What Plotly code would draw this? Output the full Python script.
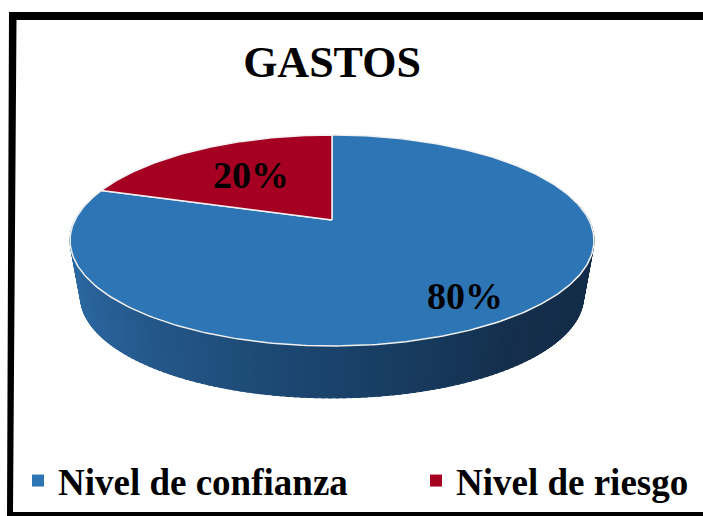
import math
import plotly.graph_objects as go

TITLE = "GASTOS"
CATEGORIES = ["Nivel de confianza", "Nivel de riesgo"]
SHARES = [80, 20]
COLORS = ["#2E75B6", "#A50021"]
FONT = "Liberation Serif"

# perspective model of the tilted disc (page pixels)
CX, CY, A, B, K = 332.0, 220.0, 257.0, 101.5, 0.194
WALL_DY, WALL_S = 57.0, 0.96


def project(theta, scale=1.0, dy=0.0):
    u, v = math.sin(theta), math.cos(theta)
    w = 1 + K * v
    return CX + scale * A * u / w, CY + dy - scale * B * v / w


def wall_color(x):
    stops = [(70, (44, 104, 162)), (150, (36, 88, 138)), (280, (28, 72, 115)),
             (420, (23, 58, 94)), (520, (20, 46, 75)), (600, (19, 44, 72))]
    for (x0, c0), (x1, c1) in zip(stops, stops[1:]):
        if x <= x1:
            t = max(0, (x - x0) / (x1 - x0))
            return "rgb(%d,%d,%d)" % tuple(round(a + (b - a) * t) for a, b in zip(c0, c1))
    return "rgb(19,44,72)"


fig = go.Figure()

# side wall, thin strips along the near half of the rim
N = 150
start, end = math.radians(80), math.radians(280)
for i in range(N):
    t0 = start + (end - start) * i / N
    t1 = start + (end - start) * (i + 1.5) / N
    xa, ya = project(t0)
    xb, yb = project(t1)
    xc, yc = project(t1, WALL_S, WALL_DY)
    xd, yd = project(t0, WALL_S, WALL_DY)
    col = wall_color((xa + xd) / 2)
    fig.add_trace(go.Scatter(x=[xa, xb, xc, xd, xa], y=[ya, yb, yc, yd, ya], mode="lines",
                             fill="toself", fillcolor=col,
                             line=dict(width=1, color=col), showlegend=False, hoverinfo="skip"))

# top face: slices go clockwise from 12 o'clock
total = sum(SHARES)
acc = 0.0
for share, color in zip(SHARES, COLORS):
    t0 = 2 * math.pi * acc / total
    t1 = 2 * math.pi * (acc + share) / total
    n = max(8, int(share * 4))
    pts = [project(t0 + (t1 - t0) * j / n) for j in range(n + 1)]
    xs = [CX] + [p[0] for p in pts] + [CX]
    ys = [CY] + [p[1] for p in pts] + [CY]
    fig.add_trace(go.Scatter(x=xs, y=ys, mode="lines", fill="toself", fillcolor=color,
                             line=dict(color="#F2F2F2", width=1.5), showlegend=False, hoverinfo="skip"))
    acc += share

# legend entries, one legend box each so they can sit apart
for name, color, lg in zip(CATEGORIES, COLORS, ["legend", "legend2"]):
    fig.add_trace(go.Scatter(x=[None], y=[None], mode="markers", name=name, legend=lg,
                             marker=dict(symbol="square", size=12, color=color)))

label_font = dict(family=FONT, size=38, color="#000000", weight="bold")
fig.add_annotation(x=251, y=175, text=f"{SHARES[1]}%", showarrow=False, font=label_font)
fig.add_annotation(x=465, y=296, text=f"{SHARES[0]}%", showarrow=False, font=label_font)

# black frame (left, top, bottom)
fig.add_shape(type="path", path="M9,12 L703,12 L703,20 L16.5,20 L13,512 L703,512 L703,516 L7,516 Z",
              xref="x", yref="y", fillcolor="#000000", line=dict(width=0), layer="above")

legend_font = dict(family=FONT, size=37, color="#000000", weight="bold")
fig.update_layout(
    width=703, height=516, autosize=False,
    margin=dict(l=0, r=0, t=0, b=0, autoexpand=False),
    paper_bgcolor="#FFFFFF", plot_bgcolor="#FFFFFF",
    xaxis=dict(range=[0, 703], visible=False, fixedrange=True),
    yaxis=dict(range=[516, 0], visible=False, fixedrange=True),
    title=dict(text=f"<b>{TITLE}</b>", x=332 / 703, xanchor="center", y=1 - 62 / 516, yanchor="middle",
               font=dict(family=FONT, size=44, color="#000000")),
    legend=dict(orientation="h", x=18 / 703, xanchor="left", y=1 - 481 / 516, yanchor="middle",
                bgcolor="rgba(0,0,0,0)", font=legend_font),
    legend2=dict(orientation="h", x=416 / 703, xanchor="left", y=1 - 481 / 516, yanchor="middle",
                 bgcolor="rgba(0,0,0,0)", font=legend_font),
)

fig.write_html("out.html", config={"displayModeBar": False},
               post_script="document.body.style.margin='0';document.body.style.overflow='hidden';")
